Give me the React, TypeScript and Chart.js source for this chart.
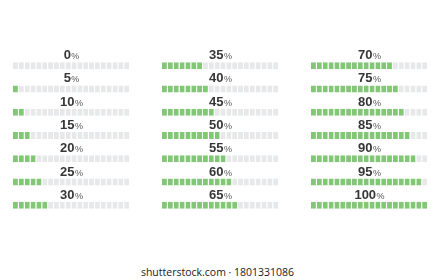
import React, { useEffect, useRef } from 'react';
import { Chart, registerables } from 'chart.js';

Chart.register(...registerables);

// ---- data ----
const column1Values = [0, 5, 10, 15, 20, 25, 30];
const column2Values = [35, 40, 45, 50, 55, 60, 65];
const column3Values = [70, 75, 80, 85, 90, 95, 100];
const segmentCount = 20;
const segmentSize = 5;
const maxValue = 100;
const percentSuffix = '%';
const watermarkText = 'shutterstock.com · 1801331086';

// ---- style ----
const GREEN = '#82c776';
const GRAY = '#e7e8e9';
const BAR_THICKNESS = 7;
const COLUMN_LEFTS = [13, 162, 311];
const COLUMN_WIDTH = 117;
const CANVAS_TOP = 40;
const CANVAS_HEIGHT = 180;
const NUM_FONT = 'bold 13px "Liberation Sans", Arial, sans-serif';
const PCT_FONT = '9px "Liberation Sans", Arial, sans-serif';

const labelPlugin = {
  id: 'pctLabels',
  afterDatasetsDraw(chart: any, _args: any, opts: any) {
    const { ctx, chartArea, scales } = chart;
    const values: number[] = opts.values || [];
    const cx = (chartArea.left + chartArea.right) / 2;
    ctx.save();
    ctx.textBaseline = 'alphabetic';
    ctx.textAlign = 'left';
    values.forEach((v, i) => {
      const y = scales.y.getPixelForValue(i) - BAR_THICKNESS / 2 - 3;
      const numText = String(v);
      ctx.font = NUM_FONT;
      const w1 = ctx.measureText(numText).width;
      ctx.font = PCT_FONT;
      const w2 = ctx.measureText(percentSuffix).width;
      const start = cx - (w1 + w2 + 0.5) / 2;
      ctx.font = NUM_FONT;
      ctx.fillStyle = '#363636';
      ctx.fillText(numText, start, y);
      ctx.font = PCT_FONT;
      ctx.fillStyle = '#555555';
      ctx.fillText(percentSuffix, start + w1 + 0.5, y);
    });
    ctx.restore();
  },
};

function ProgressColumn({ values, left }: { values: number[]; left: number }) {
  const ref = useRef<HTMLCanvasElement | null>(null);
  useEffect(() => {
    if (!ref.current) return;
    const datasets = Array.from({ length: segmentCount }, (_, s) => ({
      label: 'segment ' + (s + 1),
      data: values.map(() => segmentSize),
      backgroundColor: values.map((v) => (s * segmentSize < v ? GREEN : GRAY)),
      borderColor: '#ffffff',
      borderWidth: { top: 0, bottom: 0, left: 0, right: 1 },
      borderSkipped: false as any,
      inflateAmount: 0,
      barThickness: BAR_THICKNESS,
    }));
    const chart = new Chart(ref.current, {
      type: 'bar',
      data: { labels: values.map((v) => v + percentSuffix), datasets },
      options: {
        indexAxis: 'y',
        animation: false,
        responsive: false,
        devicePixelRatio: 1,
        layout: { padding: { top: 14, bottom: 3, left: 0, right: 0 } },
        scales: {
          x: { type: 'linear', min: 0, max: maxValue, stacked: true, display: false },
          y: { type: 'category', stacked: true, display: false },
        },
        plugins: {
          legend: { display: false },
          tooltip: { enabled: false },
          pctLabels: { values },
        } as any,
      },
      plugins: [labelPlugin],
    });
    return () => chart.destroy();
  }, [values]);
  return (
    <canvas
      ref={ref}
      width={COLUMN_WIDTH}
      height={CANVAS_HEIGHT}
      style={{
        position: 'absolute',
        left,
        top: CANVAS_TOP,
        width: COLUMN_WIDTH,
        height: CANVAS_HEIGHT,
      }}
    />
  );
}

export default function App() {
  useEffect(() => {
    document.body.style.margin = '0';
  }, []);
  const columns = [column1Values, column2Values, column3Values];
  return (
    <div
      style={{
        position: 'fixed',
        left: 0,
        top: 0,
        width: 435,
        height: 280,
        background: '#ffffff',
        overflow: 'hidden',
      }}
    >
      {columns.map((vals, i) => (
        <ProgressColumn key={i} values={vals} left={COLUMN_LEFTS[i]} />
      ))}
      <div
        style={{
          position: 'absolute',
          left: 0,
          width: 435,
          top: 264,
          textAlign: 'center',
          fontFamily: '"Open Sans", sans-serif',
          fontSize: 10.5,
          lineHeight: '16px',
          color: '#222222',
        }}
      >
        {watermarkText}
      </div>
    </div>
  );
}
